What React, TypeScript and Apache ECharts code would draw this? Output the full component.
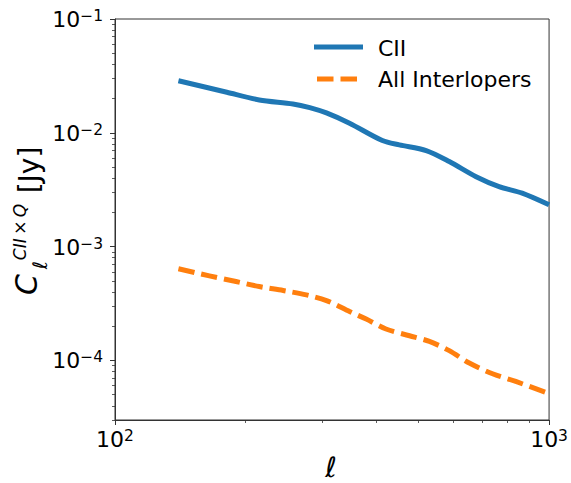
import React, { useEffect, useRef } from 'react';
import * as echarts from 'echarts';

// multipole values and spectra
const ellCII = [140, 181, 215, 257, 281, 307, 347, 413, 452, 521, 589, 679, 767, 867, 1000];
const valCII = [0.0287, 0.0227, 0.01945, 0.01794, 0.01665, 0.01495, 0.01214, 0.00855, 0.00783, 0.00698, 0.00559, 0.00412, 0.00337, 0.00295, 0.00233];
const ellInt = [140, 165, 190, 215, 244, 276, 307, 347, 379, 421, 477, 530, 589, 655, 741, 838, 983, 1000];
const valInt = [6.4e-4, 5.54e-4, 4.94e-4, 4.46e-4, 4.12e-4, 3.77e-4, 3.36e-4, 2.69e-4, 2.31e-4, 1.89e-4, 1.65e-4, 1.47e-4, 1.22e-4, 9.49e-5, 7.64e-5, 6.54e-5, 5.24e-5, 5.1e-5];

const seriesNames = ['CII', 'All Interlopers'];
const xRange = [100, 1000];
const yRange = [3e-5, 0.1];
const xMajorExp = [2, 3];
const yMajorExp = [-4, -3, -2, -1];

const FONT = 'DejaVu Sans';
const BLUE = '#1f77b4';
const ORANGE = '#ff7f0e';
const AXIS = '#333333';

function minorLogs(lo: number, hi: number): number[] {
  const out: number[] = [];
  for (let e = Math.floor(Math.log10(lo)); e < Math.ceil(Math.log10(hi)); e++) {
    for (let m = 2; m <= 9; m++) {
      const v = m * Math.pow(10, e);
      if (v > lo && v < hi) out.push(Math.log10(v));
    }
  }
  return out;
}

const toPairs = (xs: number[], ys: number[]) => xs.map((x, i) => [Math.log10(x), Math.log10(ys[i])]);

const expLabel = (v: number) => {
  const e = Math.round(v);
  const s = e < 0 ? '\u2212' + String(-e) : String(e);
  return `{b|10}{s|${s}}`;
};

const richLabel = {
  b: { fontSize: 22, fontFamily: FONT, color: '#000', lineHeight: 22, padding: [1, 0, 0, 0] },
  s: { fontSize: 15.5, fontFamily: FONT, color: '#000', lineHeight: 11, verticalAlign: 'top' },
};

export default function App() {
  const ref = useRef<HTMLDivElement>(null);
  useEffect(() => {
    if (!ref.current) return;
    const chart = echarts.init(ref.current, undefined, { renderer: 'svg' });
    const xMin = Math.log10(xRange[0]);
    const xMax = Math.log10(xRange[1]);
    const yMin = Math.log10(yRange[0]);
    const yMax = Math.log10(yRange[1]);
    const option: any = {
      animation: false,
      backgroundColor: '#fff',
      grid: {
        left: 115, right: 21, top: 19, bottom: 63,
        show: true, borderColor: AXIS, borderWidth: 1, backgroundColor: 'transparent',
      },
      xAxis: [
        {
          type: 'value', min: xMin, max: xMax, position: 'bottom',
          axisLine: { show: true, lineStyle: { color: AXIS, width: 1 } },
          axisTick: { show: true, length: 5, customValues: xMajorExp, lineStyle: { color: AXIS, width: 1 } },
          axisLabel: { show: true, margin: 8, customValues: xMajorExp, formatter: expLabel, rich: richLabel },
          splitLine: { show: false },
        },
        {
          type: 'value', min: xMin, max: xMax, position: 'bottom', offset: 0,
          axisLine: { show: false },
          axisTick: { show: true, length: 3, customValues: minorLogs(xRange[0], xRange[1]), lineStyle: { color: AXIS, width: 0.8 } },
          axisLabel: { show: false },
          splitLine: { show: false },
        },
      ],
      yAxis: [
        {
          type: 'value', min: yMin, max: yMax, position: 'left',
          axisLine: { show: true, lineStyle: { color: AXIS, width: 1 } },
          axisTick: { show: true, length: 5, customValues: yMajorExp, lineStyle: { color: AXIS, width: 1 } },
          axisLabel: { show: true, margin: 12, customValues: yMajorExp, formatter: expLabel, rich: richLabel },
          splitLine: { show: false },
        },
        {
          type: 'value', min: yMin, max: yMax, position: 'left', offset: 0,
          axisLine: { show: false },
          axisTick: { show: true, length: 3, customValues: minorLogs(yRange[0], yRange[1]), lineStyle: { color: AXIS, width: 0.8 } },
          axisLabel: { show: false },
          splitLine: { show: false },
        },
      ],
      series: [
        {
          name: seriesNames[0], type: 'line', xAxisIndex: 0, yAxisIndex: 0,
          data: toPairs(ellCII, valCII), showSymbol: false, symbol: 'none',
          smooth: 0.3,
          lineStyle: { color: BLUE, width: 5, cap: 'butt', join: 'round' },
        },
        {
          name: seriesNames[1], type: 'line', xAxisIndex: 0, yAxisIndex: 0,
          data: toPairs(ellInt, valInt), showSymbol: false, symbol: 'none',
          smooth: 0.3,
          lineStyle: { color: ORANGE, width: 5, type: [16.5, 6.8], cap: 'butt', join: 'round' },
        },
      ],
      graphic: [
        { type: 'line', shape: { x1: 314, y1: 47, x2: 363, y2: 47 }, style: { stroke: BLUE, lineWidth: 5 } },
        { type: 'line', shape: { x1: 317, y1: 79, x2: 357.5, y2: 79 }, style: { stroke: ORANGE, lineWidth: 5, lineDash: [16.5, 7] } },
        { type: 'text', x: 378, y: 48, style: { text: seriesNames[0], fontSize: 22, fontFamily: FONT, fill: '#000', align: 'left', verticalAlign: 'middle' } },
        { type: 'text', x: 378, y: 79, style: { text: seriesNames[1], fontSize: 22, fontFamily: FONT, fill: '#000', align: 'left', verticalAlign: 'middle' } },
        // x axis label
        { type: 'text', x: 331, y: 467, style: { text: '\u2113', fontSize: 28, fontStyle: 'italic', fontFamily: FONT, fill: '#000', align: 'center', verticalAlign: 'middle' } },
        // y axis label pieces (rotated)
        { type: 'text', x: 26, y: 284.5, rotation: Math.PI / 2, style: { text: 'C', fontSize: 30, fontStyle: 'italic', fontFamily: FONT, fill: '#000', align: 'center', verticalAlign: 'middle' } },
        { type: 'text', x: 40, y: 265, rotation: Math.PI / 2, style: { text: '\u2113', fontSize: 20, fontStyle: 'italic', fontFamily: FONT, fill: '#000', align: 'center', verticalAlign: 'middle' } },
        { type: 'text', x: 20, y: 232, rotation: Math.PI / 2, style: { text: 'CII\u2009\u00d7\u2009Q', fontSize: 17, fontStyle: 'italic', fontFamily: FONT, fill: '#000', align: 'center', verticalAlign: 'middle' } },
        { type: 'text', x: 29, y: 170, rotation: Math.PI / 2, style: { text: '[Jy]', fontSize: 28, fontFamily: FONT, fill: '#000', align: 'center', verticalAlign: 'middle' } },
      ],
    };
    chart.setOption(option);
    return () => chart.dispose();
  }, []);
  return <div ref={ref} style={{ position: 'fixed', left: 0, top: 0, width: 571, height: 483, background: '#fff' }} />;
}
